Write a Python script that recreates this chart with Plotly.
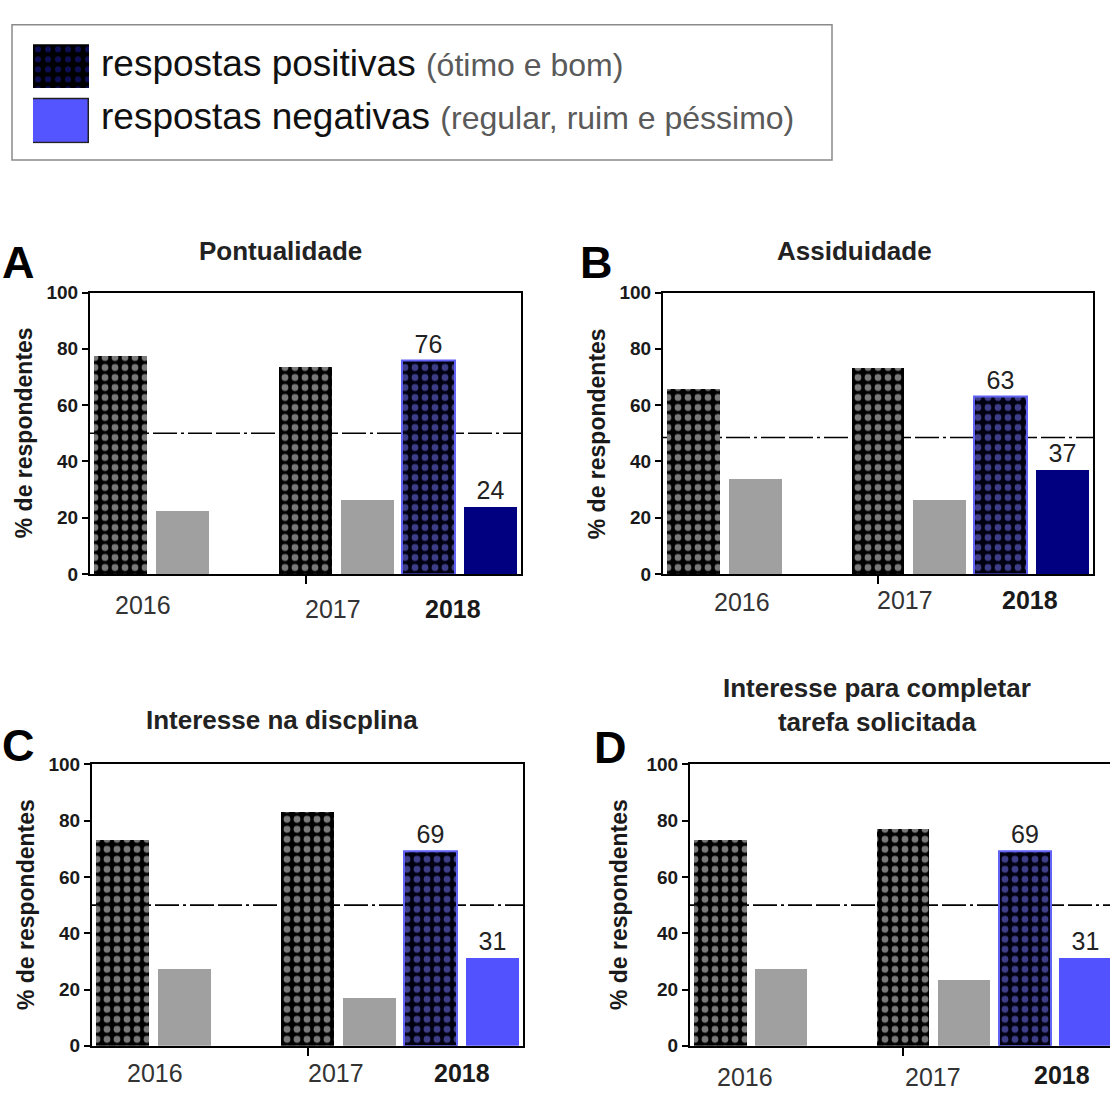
import plotly.graph_objects as go

# ---- data -------------------------------------------------------------
years = ["2016", "2017", "2018"]
panel_letters = ["A", "B", "C", "D"]
panel_titles = [
    "Pontualidade",
    "Assiduidade",
    "Interesse na discplina",
    "Interesse para completar<br>tarefa solicitada",
]
# % of respondents: positive (ótimo e bom) and negative (regular, ruim e péssimo)
pos_A = [77.7, 73.7, 76]
neg_A = [22.4, 26.3, 24]
pos_B = [65.9, 73.5, 63]
neg_B = [34.1, 26.5, 37]
pos_C = [73.0, 83.1, 69]
neg_C = [27.2, 17.0, 31]
pos_D = [73.0, 76.9, 69]
neg_D = [27.2, 23.3, 31]
reference_lines = [50, 48.5, 50, 50]

positives = [pos_A, pos_B, pos_C, pos_D]
negatives = [neg_A, neg_B, neg_C, neg_D]
y_ticks = [0, 20, 40, 60, 80, 100]

# ---- layout helpers ----------------------------------------------------
W, H = 1110, 1100
FONT = "Arial, Liberation Sans, sans-serif"


def px_x(v):
    return v / W


def px_y(v):
    return 1 - v / H


# plot frames in pixels: (left, right, top, bottom)
frames = [
    (90, 521, 288, 575),
    (663, 1093, 288, 575),
    (92, 523, 769, 1056),
    (690, 1110, 769, 1056),
]
x_ranges = [[-0.5, 6.5], [-0.5, 6.5], [-0.5, 6.5], [-0.5, 6.4]]
slot_pos = [0, 3, 5]   # x slot of the positive bar of each year
slot_neg = [1, 4, 6]   # x slot of the negative bar of each year
neg2018_colors = ["#000080", "#000080", "#5252ff", "#5252ff"]
BAR_W = 0.86

dots_grey = dict(shape=".", bgcolor="#000000", fgcolor="#f2f2f2",
                 size=10, solidity=0.36, fillmode="overlay")
dots_blue = dict(shape=".", bgcolor="#000010", fgcolor="#7a7aff",
                 size=10, solidity=0.36, fillmode="overlay")

fig = go.Figure()
annotations = []
shapes = []

# x-label placements (slot units, y pixel) per panel
xlabel_pos = [
    [(0.36, 607), (3.44, 611), (5.39, 611)],
    [(0.79, 604), (3.44, 601), (5.47, 601)],
    [(0.52, 1084), (3.46, 1084), (5.51, 1084)],
    [(0.40, 1088), (3.50, 1088), (5.61, 1086)],
]
letter_pos = [(0, 257), (578, 257), (0, 750), (592, 752)]
title_pos = [(280, 246), (854, 246), (282, 724), (877, 709)]
ytitle_x = [24, 597, 26, 619]

for i in range(4):
    ax = "" if i == 0 else str(i + 1)
    xa, ya = "x" + ax, "y" + ax
    left, right, top, bottom = frames[i]
    pos, neg = positives[i], negatives[i]

    # 2016 / 2017 positive bars (black with dotted pattern)
    fig.add_trace(go.Bar(
        x=slot_pos[:2], y=pos[:2], width=BAR_W, xaxis=xa, yaxis=ya,
        marker=dict(color="#000000", pattern=dots_grey, line=dict(width=0)),
        showlegend=False, hoverinfo="skip"))
    # 2016 / 2017 negative bars (grey)
    fig.add_trace(go.Bar(
        x=slot_neg[:2], y=neg[:2], width=BAR_W, xaxis=xa, yaxis=ya,
        marker=dict(color="#a0a0a0", line=dict(width=0)),
        showlegend=False, hoverinfo="skip"))
    # 2018 positive bar with its value
    fig.add_trace(go.Bar(
        x=slot_pos[2:], y=pos[2:], width=BAR_W, xaxis=xa, yaxis=ya,
        marker=dict(color="#000000", pattern=dots_blue,
                    line=dict(color="#6262f5", width=2)),
        text=[f"{v:g}" for v in pos[2:]], textposition="outside",
        textfont=dict(family=FONT, size=25, color="#222222"),
        cliponaxis=False, showlegend=False, hoverinfo="skip"))
    # 2018 negative bar with its value
    fig.add_trace(go.Bar(
        x=slot_neg[2:], y=neg[2:], width=BAR_W, xaxis=xa, yaxis=ya,
        marker=dict(color=neg2018_colors[i], line=dict(width=0)),
        text=[f"{v:g}" for v in neg[2:]], textposition="outside",
        textfont=dict(family=FONT, size=25, color="#222222"),
        cliponaxis=False, showlegend=False, hoverinfo="skip"))

    fig.update_layout(**{
        ("xaxis" + ax): dict(
            domain=[px_x(left), px_x(right)], range=x_ranges[i],
            anchor=ya, showgrid=False, zeroline=False,
            showline=True, linecolor="#000000", linewidth=2, mirror=True,
            tickvals=[3], ticks="outside", ticklen=8, tickwidth=2,
            tickcolor="#000000", showticklabels=False, fixedrange=True),
        ("yaxis" + ax): dict(
            domain=[px_y(bottom), px_y(top)], range=[0, 100],
            anchor=xa, showgrid=False, zeroline=False,
            showline=True, linecolor="#000000", linewidth=2,
            mirror=(i != 3),
            tickvals=y_ticks, ticks="outside", ticklen=6, tickwidth=2,
            tickcolor="#000000",
            tickfont=dict(family=FONT, size=19, color="#1a1a1a",
                          weight="bold"),
            fixedrange=True),
    })

    # dash-dot reference line, drawn beneath the bars
    shapes.append(dict(
        type="line", xref=xa, yref=ya, layer="below",
        x0=x_ranges[i][0], x1=x_ranges[i][1],
        y0=reference_lines[i], y1=reference_lines[i],
        line=dict(color="#000000", width=1.6,
                  dash="24px,4px,3px,4px,24px,4px")))

    # year labels
    for j, yr in enumerate(years):
        xs, ypx = xlabel_pos[i][j]
        annotations.append(dict(
            x=xs, y=px_y(ypx), xref=xa, yref="paper",
            text=("<b>%s</b>" % yr) if yr == "2018" else yr,
            showarrow=False, xanchor="center", yanchor="middle",
            font=dict(family=FONT, size=25,
                      color="#1a1a1a" if yr == "2018" else "#333333")))

    # panel letter
    lx, ly = letter_pos[i]
    annotations.append(dict(
        x=px_x(lx), y=px_y(ly), xref="paper", yref="paper",
        text="<b>%s</b>" % panel_letters[i], showarrow=False,
        xanchor="left", yanchor="middle",
        font=dict(family=FONT, size=45, color="#000000")))

    # panel title
    tx, ty = title_pos[i]
    annotations.append(dict(
        x=px_x(tx), y=px_y(ty), xref="paper", yref="paper",
        text="<b>%s</b>" % panel_titles[i], showarrow=False,
        xanchor="center", yanchor="middle",
        font=dict(family=FONT, size=26, color="#222222")))

    # y-axis title
    annotations.append(dict(
        x=px_x(ytitle_x[i]), y=px_y((top + bottom) / 2),
        xref="paper", yref="paper", text="<b>% de respondentes</b>",
        textangle=-90, showarrow=False, xanchor="center", yanchor="middle",
        font=dict(family=FONT, size=23, color="#1a1a1a")))

# ---- legend key (two swatches in a small hidden subplot) ---------------
fig.add_trace(go.Bar(
    y=[1], x=[1], orientation="h", width=0.8, xaxis="x5", yaxis="y5",
    marker=dict(color="#000000",
                pattern=dict(shape=".", bgcolor="#000000", fgcolor="#1c1ca8",
                             size=10, solidity=0.3, fillmode="overlay"),
                line=dict(width=0)),
    showlegend=False, hoverinfo="skip"))
fig.add_trace(go.Bar(
    y=[0], x=[1], orientation="h", width=0.8, xaxis="x5", yaxis="y5",
    marker=dict(color="#5555ff", line=dict(color="#222222", width=1.5)),
    showlegend=False, hoverinfo="skip"))
fig.update_layout(
    xaxis5=dict(domain=[px_x(33), px_x(89)], range=[0, 1], anchor="y5",
                visible=False, fixedrange=True),
    yaxis5=dict(domain=[px_y(136), px_y(35)], range=[-0.4, 1.4],
                anchor="x5", visible=False, fixedrange=True),
)

shapes.append(dict(
    type="rect", xref="paper", yref="paper",
    x0=px_x(12), x1=px_x(832), y0=px_y(153), y1=px_y(15),
    line=dict(color="#8a8a8a", width=1.5), fillcolor="rgba(0,0,0,0)"))

legend_rows = [
    ("respostas positivas", "(ótimo e bom)", 55),
    ("respostas negativas", "(regular, ruim e péssimo)", 109),
]
for main, detail, ypx in legend_rows:
    annotations.append(dict(
        x=px_x(99), y=px_y(ypx), xref="paper", yref="paper",
        text=(main + " <span style='font-size:32px;color:#5a5a5a'>"
              + detail + "</span>"),
        showarrow=False, xanchor="left", yanchor="middle",
        font=dict(family=FONT, size=37, color="#111111")))

fig.update_layout(
    width=W, height=H, autosize=False,
    margin=dict(l=0, r=0, t=0, b=0),
    paper_bgcolor="#ffffff", plot_bgcolor="#ffffff",
    barmode="overlay", bargap=0,
    shapes=shapes, annotations=annotations,
    font=dict(family=FONT),
)

fig.write_html("out.html", config={"displayModeBar": False})
